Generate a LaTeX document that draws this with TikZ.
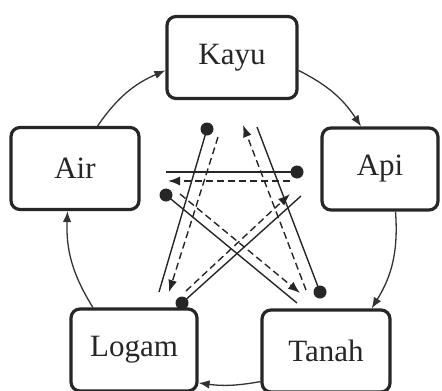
\documentclass[tikz,border=0pt]{standalone}
\usepackage{fontspec}
\setmainfont{Liberation Serif}
\usetikzlibrary{arrows.meta}
\begin{document}
\begin{tikzpicture}[x=1pt,y=-1pt,
  elem/.style={draw=black!85, line width=3.2pt, rounded corners=9pt, minimum height=82pt, inner sep=0pt, font=\fontsize{31}{36}\selectfont, text=black!85},
  cyc/.style={-{Latex[length=11pt,width=8.5pt]}, line width=1.3pt, draw=black!80},
  dotn/.style={circle, fill=black!85, inner sep=0pt, minimum size=13pt},
  ctl/.style={line width=1.4pt, draw=black!85},
  rev/.style={dash pattern=on 7pt off 4pt, line width=1.4pt, draw=black!85, -{Latex[length=12pt,width=9pt]}}
]
\useasboundingbox (0,0) rectangle (442,391);

% element boxes
\node[elem, minimum width=130pt] (kayu)  at (232,57.5) {Kayu};
\node[elem, minimum width=128pt] (air)   at (75,168.5) {Air};
\node[elem, minimum width=116pt] (api)   at (380,169) {Api};
\node[elem, minimum width=126pt] (logam) at (134,350) {Logam};
\node[elem, minimum width=128pt] (tanah) at (326,351) {Tanah};

% generating cycle
\draw[cyc] (air.62) to[bend left=16] (kayu.191);
\draw[cyc] (kayu.-11) to[bend left=15] (api.114);
\draw[cyc] (api.-70) to[bend left=18] (tanah.43);
\draw[cyc] (tanah.205) to[bend left=9] (logam.-27);
\draw[cyc] (logam.134) to[bend left=17] (air.260);

% dots
\node[dotn] (d1) at (207,129) {};
\node[dotn] (d2) at (297,172) {};
\node[dotn] (d3) at (166,195) {};
\node[dotn] (d4) at (320,292) {};
\node[dotn] (d5) at (182,303) {};

% free ends of solid lines
\coordinate (e1) at (159,292);
\coordinate (e2) at (166,172);
\coordinate (e3) at (297,303);
\coordinate (e4) at (257,127);
\coordinate (e5) at (301,196);

% dashed line ends
\coordinate (s1) at (218,137);
\coordinate (t1) at (169,292);
\coordinate (s2) at (290,181);
\coordinate (t2) at (168,181);
\coordinate (s3) at (180,194);
\coordinate (t3) at (300,293);
\coordinate (s4) at (306,290);
\coordinate (t4) at (243,125);
\coordinate (s5) at (186,291);
\coordinate (t5) at (290,194);

\draw[ctl] (d1.center) -- (e1);
\draw[ctl] (d2.center) -- (e2);
\draw[ctl] (d3.center) -- (e3);
\draw[ctl] (d4.center) -- (e4);
\draw[ctl] (d5.center) -- (e5);

\draw[rev] (s1) -- (t1);
\draw[rev] (s2) -- (t2);
\draw[rev] (s3) -- (t3);
\draw[rev] (s4) -- (t4);
\draw[rev] (s5) -- (t5);
\end{tikzpicture}
\end{document}
